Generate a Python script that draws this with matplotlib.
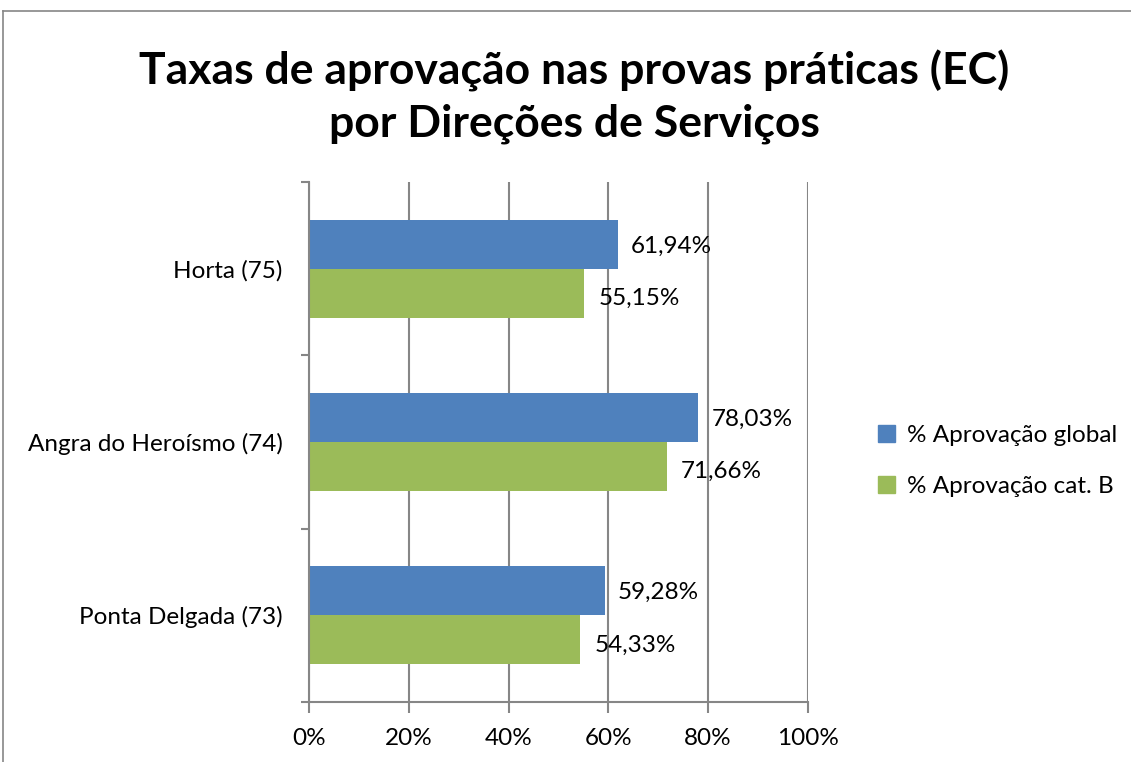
import matplotlib.pyplot as plt
import matplotlib.patches as mpatches
import numpy as np

plt.rcParams['font.family'] = ['Lato', 'DejaVu Sans']

categories = ["Horta (75)", "Angra do Heroísmo (74)", "Ponta Delgada (73)"]
aprov_global = [61.94, 78.03, 59.28]
aprov_catb = [55.15, 71.66, 54.33]
series_names = ["% Aprovação global", "% Aprovação cat. B"]
xticks = [0, 20, 40, 60, 80, 100]

blue = "#4F81BD"
green = "#9BBB59"
grey = "#868686"
fs = 17.5


def fmt(v):
  return ("%.2f%%" % v).replace(".", ",")


fig = plt.figure(figsize=(11.31, 7.62), dpi=100)
ax = fig.add_axes([0.2732, 0.0787, 0.4412, 0.6825])

y = np.arange(len(categories))
h = 0.283
ax.barh(y - h / 2, aprov_global, height=h, color=blue)
ax.barh(y + h / 2, aprov_catb, height=h, color=green)

for yi, v in zip(y, aprov_global):
  ax.text(v + 2.6, yi - h / 2 + 0.01, fmt(v), va="center", ha="left", fontsize=fs)
for yi, v in zip(y, aprov_catb):
  ax.text(v + 2.9, yi + h / 2 + 0.03, fmt(v), va="center", ha="left", fontsize=fs)

ax.set_xlim(0, 100)
ax.set_ylim(2.5, -0.5)
ax.set_xticks(xticks)
ax.set_xticklabels([str(t) + "%" for t in xticks], fontsize=fs)
ax.set_yticks([-0.5, 0.5, 1.5, 2.5])
ax.set_yticklabels([])
ax.set_yticks(y, minor=True)
ax.set_yticklabels(categories, minor=True, fontsize=fs)
ax.tick_params(axis="y", which="minor", length=0, pad=19)
ax.tick_params(axis="y", which="major", length=6, color=grey, width=1.5)
ax.tick_params(axis="x", length=8, color=grey, width=1.5, pad=11)

ax.grid(axis="x", color=grey, linewidth=1.5)
ax.set_axisbelow(True)
for s in ["top", "right"]:
  ax.spines[s].set_visible(False)
for s in ["left", "bottom"]:
  ax.spines[s].set_color(grey)
  ax.spines[s].set_linewidth(1.5)

fig.text(0.508, 0.873, "Taxas de aprovação nas provas práticas (EC)\npor Direções de Serviços",
         ha="center", va="center", fontsize=32, fontweight="bold", linespacing=1.35)

handles = [mpatches.Patch(color=blue), mpatches.Patch(color=green)]
fig.legend(handles, series_names, loc="center left", bbox_to_anchor=(0.757, 0.395),
           frameon=False, fontsize=fs, handlelength=0.7, handleheight=0.7,
           handletextpad=0.5, labelspacing=1.2)

# outer chart border (only top and left visible in the crop)
fig.add_artist(plt.Line2D([0.003, 1.0], [0.985, 0.985], color=grey, lw=1.2))
fig.add_artist(plt.Line2D([0.003, 0.003], [0.0, 0.985], color=grey, lw=1.2))

fig.savefig("out.png", dpi=100)
